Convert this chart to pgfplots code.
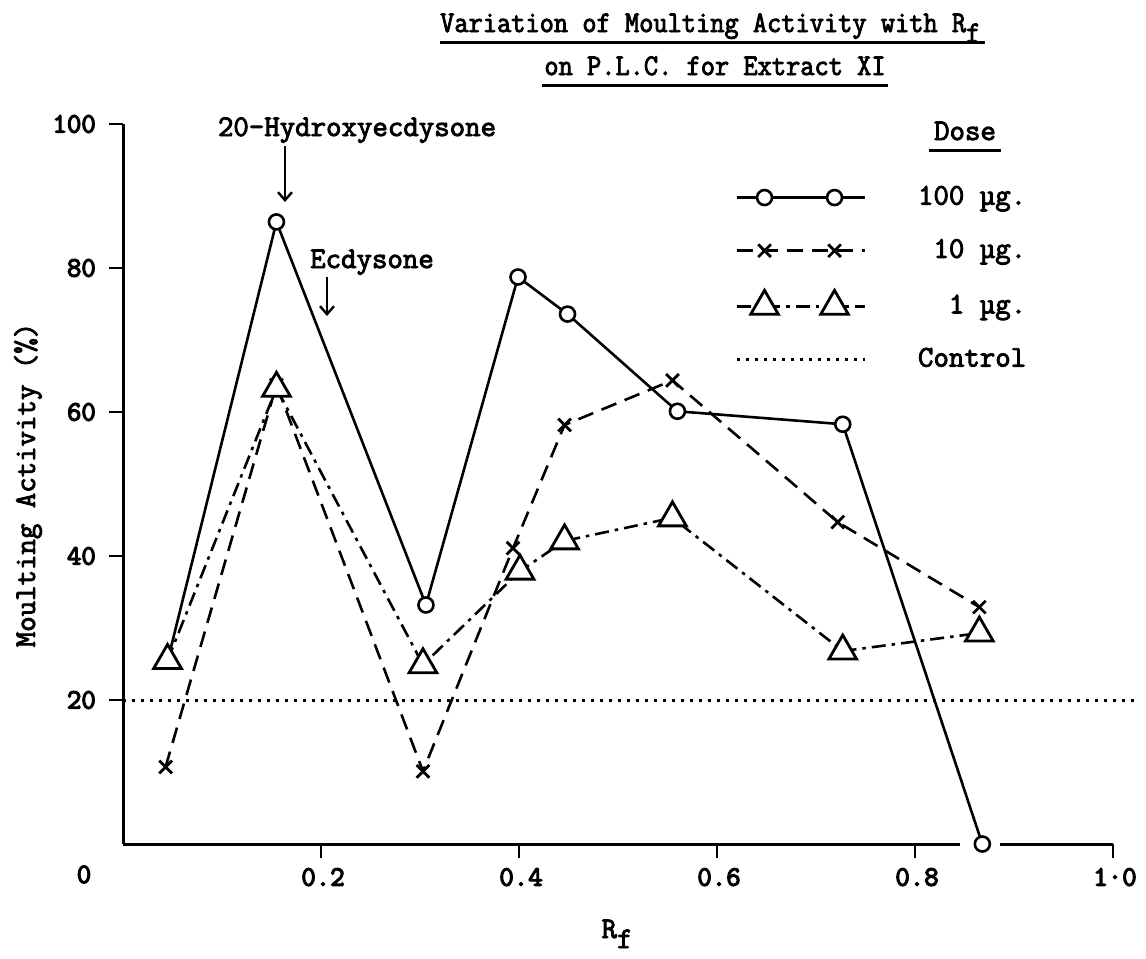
\documentclass[border=0pt]{standalone}
\usepackage{pgfplots}
\pgfplotsset{compat=1.18}
\usetikzlibrary{arrows.meta}
\usepackage{graphicx}
\usepackage{fontspec}
\setmainfont{Latin Modern Mono}[FakeBold=3]
\newfontfamily\heavy{Latin Modern Mono}[FakeBold=4.5]
\pgfplotsset{
  twomark legend/.style={legend image code/.code={\draw[##1, mark repeat=2, mark phase=2] plot coordinates {(0bp,0bp)(28bp,0bp)(63bp,0bp)(98bp,0bp)(128bp,0bp)};}},
  ctrl legend/.style={legend image code/.code={\draw[##1] (0bp,0bp) -- (128bp,0bp);}},
}
\begin{document}
\fontsize{30bp}{34bp}\selectfont
\begin{tikzpicture}[x=1bp,y=1bp]
\useasboundingbox (0,0) rectangle (1146,-959);
\begin{axis}[
  at={(123bp,-844bp)}, anchor=south west,
  scale only axis, width=990bp, height=720bp,
  xmin=0, xmax=1, ymin=0, ymax=100,
  axis x line=bottom, axis y line=left,
  axis line style={-, line width=3bp},
  xtick={0.2,0.4,0.6,0.8,1.0}, xticklabels={0.2,0.4,0.6,0.8,1·0},
  ytick={20,40,60,80,100},
  tick align=outside, major tick length=14bp,
  tick style={line width=2.6bp, black},
  /pgf/number format/assume math mode=true,
  xticklabel style={font=\heavy\fontsize{28bp}{32bp}\selectfont, xshift=2bp, yshift=0bp},
  yticklabel style={font=\heavy\fontsize{28bp}{32bp}\selectfont, xshift=-3bp},
  clip=false,
  legend style={draw=none, fill=none, at={(axis cs:0.618,91.7)}, anchor=north west,
    row sep=26bp, column sep=50bp, inner sep=0pt,
    font=\fontsize{30bp}{34bp}\selectfont},
  legend cell align=left,
]
\draw[white, line width=6bp] (axis cs:0.845,0) -- (axis cs:0.886,0);
\addplot[black, line width=2.6bp, mark=*, mark size=7.5bp,
  mark options={fill=white, solid, line width=2.6bp}, twomark legend]
coordinates {(0.045,25.4) (0.155,86.4) (0.306,33.2) (0.399,78.75) (0.449,73.6) (0.560,60.1) (0.727,58.3) (0.868,0)};
\addlegendentry{100 µg.}
\addplot[black, line width=2.6bp, dash pattern=on 16bp off 9bp, mark=x, mark size=9bp,
  mark options={solid, line width=2.8bp}, twomark legend]
coordinates {(0.043,10.7) (0.155,63.75) (0.303,10.1) (0.394,41.1) (0.446,58.2) (0.555,64.4) (0.722,44.7) (0.865,32.9)};
\addlegendentry{\phantom{0}10 µg.}
\addplot[black, line width=2.6bp, dash pattern=on 14bp off 6bp on 3.5bp off 6bp, mark=triangle*, mark size=16bp,
  mark options={solid, fill=white, line width=2.8bp}, twomark legend]
coordinates {(0.045,25.5) (0.155,63.3) (0.303,24.9) (0.401,37.9) (0.446,42.1) (0.555,45.3) (0.727,26.8) (0.865,29.3)};
\addlegendentry{\phantom{00}1 µg.}
\addplot[black, line width=3bp, dash pattern=on 3bp off 6bp, ctrl legend]
coordinates {(0,20) (1.023,20)};
\addlegendentry{Control}
\end{axis}
% titles and labels
\node[anchor=base west, inner sep=0pt] (t1) at (440,-32) {\scalebox{0.92}[1]{Variation of Moulting Activity with R\raisebox{-10bp}{f}}};
\draw[line width=3bp] (440,-42) -- (985,-42);
\node[anchor=base, inner sep=0pt] (t2) at (715,-75) {\scalebox{0.92}[1]{on P.L.C. for Extract XI}};
\draw[line width=3bp] ([xshift=-2bp]t2.west |- 0,-85) -- ([xshift=2bp]t2.east |- 0,-85);
\node[anchor=base, inner sep=0pt] (dose) at (965,-140) {Dose};
\draw[line width=3bp] (929,-150) -- (1001,-150);
\node[anchor=base, inner sep=0pt] at (357,-136) {20-Hydroxyecdysone};
\draw[line width=2.4bp, -{Straight Barb[length=8bp,width=14bp]}] (285,-146) -- (285,-202);
\node[anchor=base, inner sep=0pt] at (372,-268) {Ecdysone};
\draw[line width=2.4bp, -{Straight Barb[length=8bp,width=14bp]}] (327,-277) -- (327,-316);
\node[rotate=90, inner sep=0pt] at (28,-485) {Moulting Activity (\%)};
\node[anchor=base, inner sep=0pt] at (84,-883) {\heavy\fontsize{28bp}{32bp}\selectfont 0};
\node[anchor=base, inner sep=0pt] at (617,-938) {R\raisebox{-10bp}{f}};
\end{tikzpicture}
\end{document}
